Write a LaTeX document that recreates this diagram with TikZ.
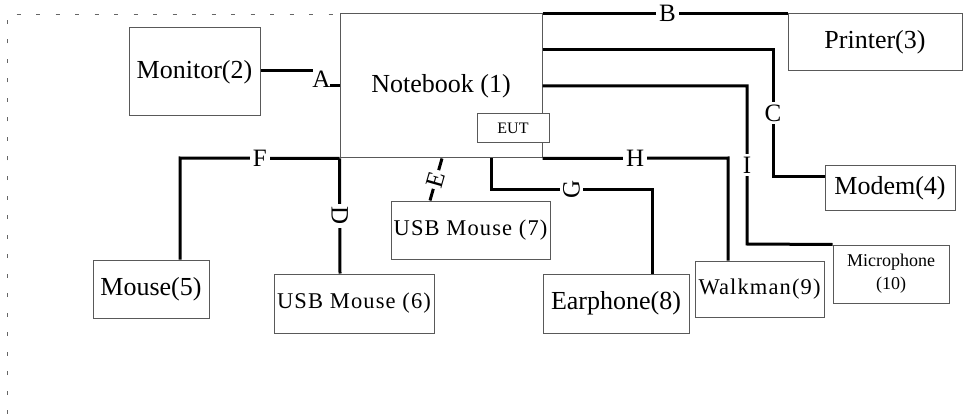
\documentclass[tikz,border=0pt]{standalone}
\usepackage{fontspec}
\setmainfont{Liberation Serif}
\newfontfamily\spacedfont[LetterSpace=5]{Liberation Serif}
\begin{document}
\begin{tikzpicture}[x=1pt,y=-1pt,
  box/.style={draw=black!65, line width=1pt, fill=white, inner sep=0pt, align=center,
    font=\fontsize{26}{31}\selectfont},
  wire/.style={line width=3pt, line join=miter},
  lbl/.style={fill=white, inner sep=3pt, font=\fontsize{25}{29}\selectfont},
  frame/.style={draw=black!60, line width=0.9pt, dash pattern=on 4pt off 15.5pt}]
\useasboundingbox (0,0) rectangle (965,414);
% dashed frame
\draw[frame] (7,414) -- (7,14) -- (965,14);
% boxes
\node[box, minimum width=202pt, minimum height=144pt] (nb) at (441,86) {Notebook (1)};
\node[box, minimum width=72pt, minimum height=29pt, font=\fontsize{16}{19}\selectfont] (eut) at (513,128.5) {EUT};
\node[box, minimum width=131pt, minimum height=88pt] (mon) at (194.5,72) {Monitor(2)};
\node[box, minimum width=174pt, minimum height=57pt] (prn) at (875,42.5) {Printer(3)};
\node[box, minimum width=130pt, minimum height=44pt] (mod) at (890,188) {Modem(4)};
\node[box, minimum width=116pt, minimum height=58pt] (mse) at (151,289) {Mouse(5)};
\node[box, minimum width=160pt, minimum height=59pt, font=\spacedfont\fontsize{22.5}{26}\selectfont] (usb6) at (354,303.5) {USB Mouse (6)};
\node[box, minimum width=159pt, minimum height=58pt, font=\spacedfont\fontsize{22.5}{26}\selectfont] (usb7) at (470.5,230) {USB Mouse (7)};
\node[box, minimum width=146pt, minimum height=59pt] (ear) at (616,303.5) {Earphone(8)};
\node[box, minimum width=129pt, minimum height=56pt, font=\spacedfont\fontsize{22.5}{26}\selectfont] (wlk) at (759.5,289) {Walkman(9)};
\node[box, minimum width=116pt, minimum height=58pt, font=\fontsize{18}{23}\selectfont] (mic) at (891,274) {Microphone\\(10)};
% connectors
\draw[wire] (mon.east |- 0,71) -- (313,71);
\node[font=\fontsize{25}{29}\selectfont, inner sep=0pt] (la) at (321.5,79) {A};
\draw[wire] (330,86) -- (nb.west |- 0,86);
\draw[wire] (nb.north east) -- node[lbl, pos=0.51]{B} (prn.north west);
\draw[wire] (nb.east |- 0,50) -- (773,50) -- node[lbl]{C} (773,176) -- (mod.west |- 0,176);
\draw[wire] (nb.east |- 0,86) -- (747,86) -- node[lbl]{I} (747,244) -- (mic.north west);
\draw[wire] (nb.south east) -- node[lbl]{H} (728,158) -- (wlk.north -| 728,0);
\draw[wire] (nb.south -| 491,0) -- (491,189) -- node[lbl, rotate=90]{G} (652,189) -- (ear.north -| 652,0);
\draw[wire] (nb.south west) -- node[lbl]{F} (180,158) -- (mse.north -| 180,0);
\draw[wire] (nb.south west) -- node[lbl, rotate=-90]{D} (usb6.north -| 340,0);
\draw[wire] (nb.south -| 442,0) -- node[lbl, rotate=74, inner sep=2pt]{E} (usb7.north -| 430,0);
\end{tikzpicture}
\end{document}
